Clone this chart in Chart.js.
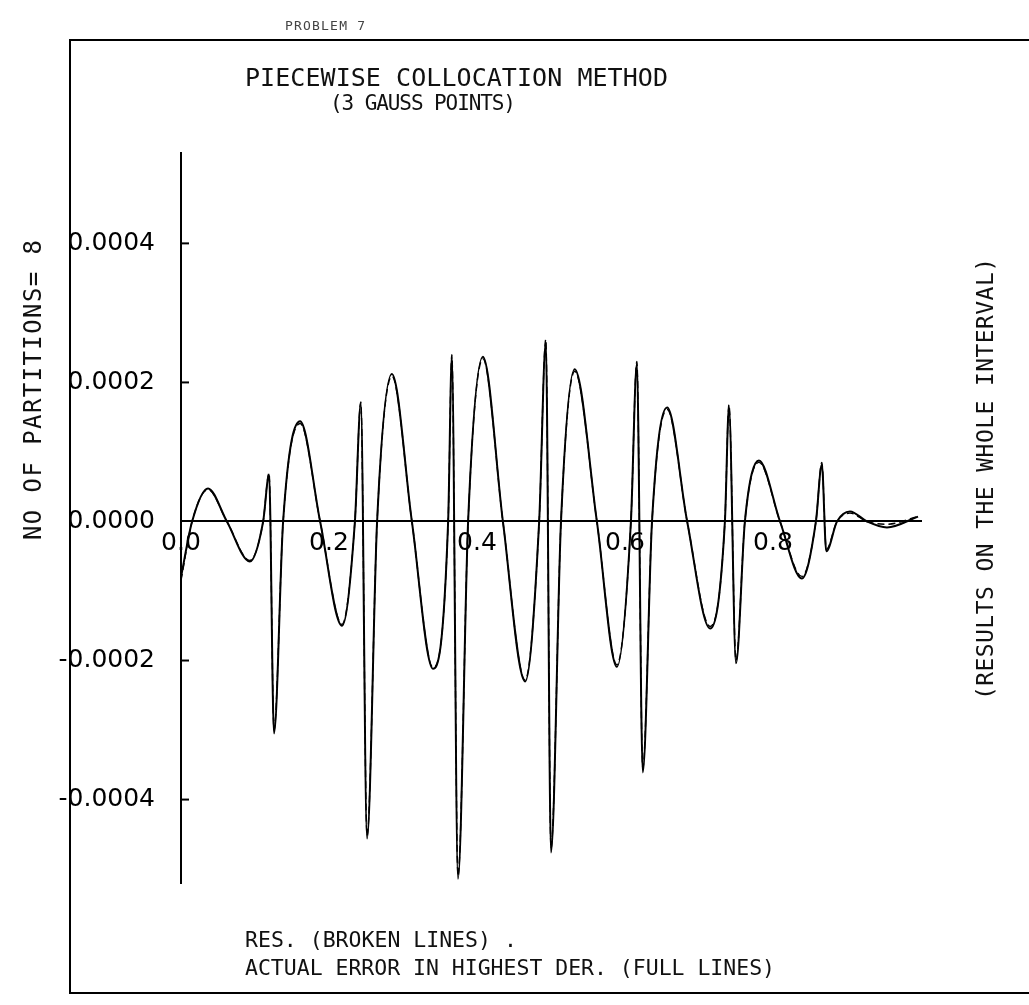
<!DOCTYPE html>
<html lang="en">
<head>
    <meta charset="UTF-8">
    <title>Piecewise Collocation Method</title>
    <script src="https://cdn.jsdelivr.net/npm/chart.js"></script>
    <style>
        body { margin: 0; background: #fff; }
        canvas { display: block; }
    </style>
</head>
<body>
    <canvas id="myChart" width="1029" height="1005"></canvas>
    <script>
    const xPoints = [
        0.000, 0.015, 0.0365, 0.062, 0.093, 0.111, 0.119, 0.1257,
        0.138, 0.161, 0.188, 0.2176, 0.235, 0.243, 0.2514,
        0.265, 0.285, 0.312, 0.3405, 0.361, 0.366, 0.3743,
        0.388, 0.408, 0.435, 0.465, 0.484, 0.493, 0.500,
        0.5135, 0.532, 0.562, 0.589, 0.608, 0.616, 0.624,
        0.6365, 0.657, 0.684, 0.715, 0.735, 0.7405, 0.750,
        0.762, 0.781, 0.8095, 0.839, 0.858, 0.866, 0.872,
        0.8865, 0.904, 0.927, 0.954, 0.996
    ];

    // actual error in highest derivative (full lines)
    const fullLine = [
        -0.000080, 0, 0.0000475, 0, -0.0000576, 0, 0.0000676, -0.000305,
        0, 0.000144, 0, -0.000150, 0, 0.000170, -0.000456,
        0, 0.000212, 0, -0.000212, 0, 0.000237, -0.000514,
        0, 0.000237, 0, -0.000230, 0, 0.000258, -0.000476,
        0, 0.000219, 0, -0.000209, 0, 0.000227, -0.000361,
        0, 0.000164, 0, -0.000154, 0, 0.000165, -0.000204,
        0, 0.0000878, 0, -0.000082, 0, 0.000082, -0.000043,
        0, 0.0000144, 0, -0.0000086, 0.000007
    ];

    // residual (broken lines)
    const brokenLine = [
        -0.000085, 0, 0.000046, 0, -0.000056, 0, 0.000070, -0.000300,
        0, 0.000141, 0, -0.000148, 0, 0.000172, -0.000452,
        0, 0.000209, 0, -0.000210, 0, 0.000240, -0.000510,
        0, 0.000234, 0, -0.000228, 0, 0.000262, -0.000470,
        0, 0.000216, 0, -0.000206, 0, 0.000230, -0.000355,
        0, 0.000161, 0, -0.000151, 0, 0.000168, -0.000200,
        0, 0.000085, 0, -0.000079, 0, 0.000085, -0.000040,
        0, 0.000012, 0, -0.000004, 0.000007
    ];

    const xTicks = [0, 0.2, 0.4, 0.6, 0.8];
    const yTicks = [-0.0004, -0.0002, 0, 0.0002, 0.0004];

    const ctx = document.getElementById('myChart').getContext('2d');

    function toPoints(values) {
        return xPoints.map((x, i) => ({ x: x, y: values[i] }));
    }

    // plotter-style lettering; if width is given the letter spacing is stretched to fit it
    function drawText(c, text, x, y, size, opts) {
        opts = opts || {};
        c.save();
        c.translate(x, y);
        if (opts.angle) c.rotate(opts.angle);
        c.font = size + 'px "DejaVu Sans Mono"';
        c.letterSpacing = '0px';
        let w = c.measureText(text).width;
        if (opts.width) {
            c.letterSpacing = ((opts.width - w) / (text.length - 1)) + 'px';
            w = opts.width;
        }
        c.textAlign = 'left';
        c.textBaseline = 'middle';
        c.fillStyle = opts.color || '#111';
        c.fillText(text, opts.center ? -w / 2 : 0, 0);
        c.restore();
    }

    const framePlugin = {
        id: 'frame',
        afterDraw(chart) {
            const c = chart.ctx;
            const left = chart.chartArea.left;
            const yScale = chart.scales.y;
            c.save();
            c.strokeStyle = '#000';
            c.lineWidth = 2;
            // small tick marks pointing into the plot
            yTicks.forEach(v => {
                if (v === 0) return;
                const py = yScale.getPixelForValue(v);
                c.beginPath();
                c.moveTo(left, py);
                c.lineTo(left + 8, py);
                c.stroke();
            });
            // page frame
            c.beginPath();
            c.moveTo(1029, 40);
            c.lineTo(70, 40);
            c.lineTo(70, 993);
            c.lineTo(1029, 993);
            c.stroke();
            c.restore();

            drawText(c, 'PROBLEM 7', 285, 27, 13, { width: 80, color: '#444' });
            drawText(c, 'PIECEWISE COLLOCATION METHOD', 245, 79, 25, { width: 423 });
            drawText(c, '(3 GAUSS POINTS)', 330, 105, 21, { width: 186 });
            drawText(c, 'NO OF PARTITIONS= 8', 35, 390, 24, { width: 300, center: true, angle: -Math.PI / 2 });
            drawText(c, '(RESULTS ON THE WHOLE INTERVAL)', 987, 479, 23, { width: 442, center: true, angle: -Math.PI / 2 });
            drawText(c, 'RES. (BROKEN LINES) .', 245, 941, 21.5);
            drawText(c, 'ACTUAL ERROR IN HIGHEST DER. (FULL LINES)', 245, 969, 21.5, { width: 530 });
        }
    };

    const tickFont = { family: 'DejaVu Sans', size: 25 };

    new Chart(ctx, {
        type: 'line',
        data: {
            datasets: [
                {
                    label: 'ACTUAL ERROR IN HIGHEST DER.',
                    data: toPoints(fullLine),
                    borderColor: '#000',
                    borderWidth: 2,
                    pointRadius: 0,
                    fill: false,
                    cubicInterpolationMode: 'monotone'
                },
                {
                    label: 'RES.',
                    data: toPoints(brokenLine),
                    borderColor: '#000',
                    borderWidth: 1.4,
                    borderDash: [7, 4],
                    pointRadius: 0,
                    fill: false,
                    cubicInterpolationMode: 'monotone'
                }
            ]
        },
        options: {
            responsive: false,
            animation: false,
            layout: { padding: { left: 30, top: 153, right: 108, bottom: 122 } },
            plugins: {
                legend: { display: false },
                tooltip: { enabled: false },
                title: { display: false }
            },
            scales: {
                x: {
                    type: 'linear',
                    min: 0,
                    max: 1,
                    position: { y: 0 },
                    afterBuildTicks: s => { s.ticks = xTicks.map(v => ({ value: v })); },
                    afterFit: s => { s.height = 0; },
                    border: { display: true, color: '#000', width: 2 },
                    grid: { drawOnChartArea: false, drawTicks: false },
                    ticks: {
                        color: '#000',
                        padding: 7,
                        font: tickFont,
                        maxRotation: 0,
                        autoSkip: false,
                        callback: v => Number(v).toFixed(1)
                    }
                },
                y: {
                    type: 'linear',
                    min: -0.00052,
                    max: 0.00053,
                    afterBuildTicks: s => { s.ticks = yTicks.map(v => ({ value: v })); },
                    afterFit: s => { s.width = 151; },
                    border: { display: true, color: '#000', width: 2 },
                    grid: { drawOnChartArea: false, drawTicks: false },
                    ticks: {
                        color: '#000',
                        padding: 26,
                        font: tickFont,
                        autoSkip: false,
                        callback: v => Number(v).toFixed(4)
                    }
                }
            }
        },
        plugins: [framePlugin]
    });
    </script>
</body>
</html>
